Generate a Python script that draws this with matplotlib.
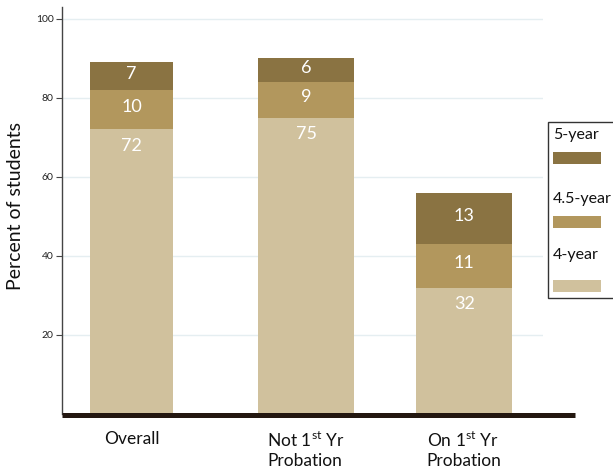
import matplotlib
matplotlib.use("Agg")
import matplotlib.pyplot as plt
from matplotlib.patches import Rectangle
from matplotlib.lines import Line2D

plt.rcParams['font.family'] = ['Lato', 'DejaVu Sans']
plt.rcParams['mathtext.fontset'] = 'custom'
plt.rcParams['mathtext.rm'] = 'Lato'

categories = ["Overall", "Not 1$^{\\rm st}$ Yr\nProbation", "On 1$^{\\rm st}$ Yr\nProbation"]
four_year = [72, 75, 32]
four5_year = [10, 9, 11]
five_year = [7, 6, 13]
series_names = ["4-year", "4.5-year", "5-year"]
colors = ["#D0C19D", "#B2975D", "#8A7342"]
yticks = [20, 40, 60, 80, 100]

# layout constants
bar_pos = [0, 1.05, 2.0]
bar_w = [0.5, 0.577, 0.577]

fig = plt.figure(figsize=(6.13, 4.72), dpi=100)
ax = fig.add_axes([62/613, 1-414/472, (543-62)/613, (414-7)/472])

series = [four_year, four5_year, five_year]
bottoms = [0, 0, 0]
for si, (vals, col) in enumerate(zip(series, colors)):
    ax.bar(bar_pos, vals, width=bar_w, bottom=bottoms, color=col, zorder=2,
           edgecolor='none')
    for xi, b, v in zip(bar_pos, bottoms, vals):
        if si == 0:
            ypos = b + v - 4.2
        else:
            ypos = b + v/2 + 0.6
        ax.text(xi, ypos, str(v), ha='center', va='center', color='white',
                fontsize=13, zorder=3)
    bottoms = [b + v for b, v in zip(bottoms, vals)]

ax.set_xlim(-0.4177, 2.473)
ax.set_ylim(0, 103)
ax.set_yticks(yticks)
ax.set_yticklabels([str(t) for t in yticks], fontsize=7.5, color='#222222')
ax.tick_params(axis='y', direction='out', length=4, width=0.8, color='#444444', pad=2)
ax.set_xticks([])
for t in yticks:
    ax.axhline(t, color='#e5eef1', lw=1, zorder=1)

for s in ['top', 'right', 'bottom']:
    ax.spines[s].set_visible(False)
ax.spines['left'].set_color('#444444')
ax.spines['left'].set_linewidth(1)

# thick baseline
fig.add_artist(Line2D([62/613, 575/613], [1-414.5/472]*2, color='#231710',
                      lw=3.6, transform=fig.transFigure, solid_capstyle='butt'))

fig.text(16/613, 1-206/472, "Percent of students", rotation=90, fontsize=14,
         ha='center', va='center', color='#111111')

for xi, lab in zip(bar_pos, categories):
    ax.text(xi, -4.3, lab, ha='center', va='top', multialignment='left',
            fontsize=12.5, color='#111111', linespacing=1.2)

# custom legend
fig.add_artist(Rectangle((548/613, 1-298/472), 70/613, 176/472, facecolor='white',
                         edgecolor='#333333', lw=1, transform=fig.transFigure))
leg_text_y = [135, 199, 255]
leg_patch_y = [152, 216, 280]
for name, col, ty, py in zip(series_names[::-1], colors[::-1], leg_text_y, leg_patch_y):
    fig.text(553/613, 1-ty/472, name, fontsize=11.5, va='center', ha='left', color='#111111')
    fig.add_artist(Rectangle((553/613, 1-(py+12)/472), 48/613, 12/472,
                             facecolor=col, edgecolor='none', transform=fig.transFigure))

fig.savefig("out.png", dpi=100)
